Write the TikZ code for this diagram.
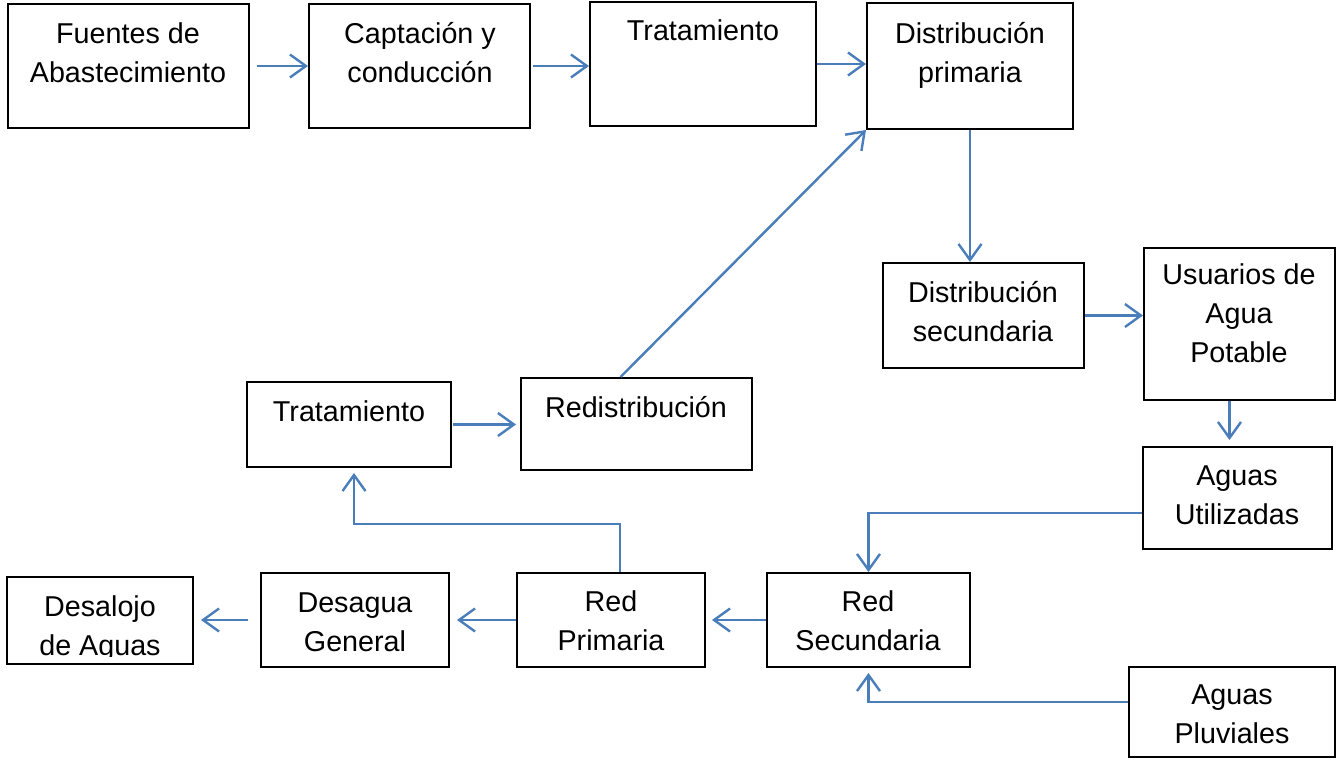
\documentclass[tikz,border=0pt]{standalone}
\usepackage{fontspec}
\setmainfont{Liberation Sans}
\usetikzlibrary{arrows.meta,calc}
\definecolor{arrblue}{HTML}{4A7EBB}
\tikzset{
  box/.style={draw=black, line width=2pt, inner sep=0pt, fill=white},
  txt/.style={inner sep=0pt, align=center, font=\fontsize{28.7}{39}\selectfont},
  arr/.style={draw=arrblue, line width=2.4pt, -{Straight Barb[length=16pt,width=23pt]}},
}
\begin{document}
\begin{tikzpicture}[x=1pt,y=-1pt]
\useasboundingbox (0,0) rectangle (1344,760);
% boxes
\node[box, minimum width=241, minimum height=124] (f)  at (128.5,66) {};
\node[box, minimum width=221, minimum height=124] (c)  at (419.5,66) {};
\node[box, minimum width=226, minimum height=124] (t1) at (703,64) {};
\node[box, minimum width=206, minimum height=126] (dp) at (970,66) {};
\node[box, minimum width=201, minimum height=105] (ds) at (983.5,315.5) {};
\node[box, minimum width=191, minimum height=152] (u)  at (1239.5,324) {};
\node[box, minimum width=189, minimum height=102] (au) at (1237.5,498) {};
\node[box, minimum width=203, minimum height=94]  (rs) at (868.5,620) {};
\node[box, minimum width=188, minimum height=94]  (rp) at (611,620) {};
\node[box, minimum width=188, minimum height=94]  (dg) at (355,620) {};
\node[box, minimum width=186, minimum height=87]  (da) at (100,620.5) {};
\node[box, minimum width=204, minimum height=85]  (t2) at (349,424.5) {};
\node[box, minimum width=231, minimum height=92]  (rd) at (636.5,424) {};
\node[box, minimum width=206, minimum height=90]  (ap) at (1232,712) {};
% texts
\node[txt] (tf)  at (128,53) {Fuentes de\\Abastecimiento};
\node[txt] (tc)  at (420,53) {Captación y\\conducción};
\node[txt] (tt1) at (703,30) {Tratamiento};
\node[txt] (tdp) at (970,55) {Distribución\\primaria};
\node[txt] (tds) at (983,312) {Distribución\\secundaria};
\node[txt] (tu)  at (1239,313) {Usuarios de\\Agua\\Potable};
\node[txt] (tau) at (1237,495) {Aguas\\Utilizadas};
\node[txt] (trs) at (868,621) {Red\\Secundaria};
\node[txt] (trp) at (611,621) {Red\\Primaria};
\node[txt] (tdg) at (355,622.5) {Desagua\\General};
\begin{scope}
\clip ([xshift=1pt,yshift=-1pt]da.north west) rectangle ([xshift=-1pt,yshift=9pt]da.south east);
\node[txt] (tda) at (100,629) {Desalojo\\de Aguas};
\end{scope}
\node[txt] (tt2) at (349,411) {Tratamiento};
\node[txt] (trd) at (636,407) {Redistribución};
\node[txt] (tap) at (1232,714) {Aguas\\Pluviales};
% connectors
\draw[arr, shorten <=7pt] (f.east) -- (c.west);
\draw[arr, shorten <=2pt] (c.east) -- (c.east -| t1.west);
\draw[arr] (t1.east) -- (t1.east -| dp.west);
\draw[arr] (dp.south) -- (dp.south |- ds.north);
\draw[arr] (ds.east) -- (ds.east -| u.west);
\draw[arr, shorten >=6pt] ([xshift=-10pt]u.south) -- ([xshift=-10pt]u.south |- au.north);
\draw[arr] ([yshift=-15pt]au.west) -| (rs.north);
\draw[arr, shorten >=6pt] (rs.west) -- (rs.west -| rp.east);
\draw[arr, shorten >=7pt] (rp.west) -- (rp.west -| dg.east);
\draw[arr, shorten <=12pt, shorten >=7pt] (dg.west) -- (dg.west -| da.east);
\draw[arr, shorten >=5pt] ([xshift=9pt]rp.north) -- ++(0,-48) -| ([xshift=5pt]t2.south);
\draw[arr, shorten <=1pt, shorten >=4pt] (t2.east) -- (t2.east -| rd.west);
\draw[arr] ([xshift=-16pt]rd.north) -- (dp.south west);
\draw[arr, shorten >=5pt] ([yshift=10pt]ap.west) -| (rs.south);
\end{tikzpicture}
\end{document}
